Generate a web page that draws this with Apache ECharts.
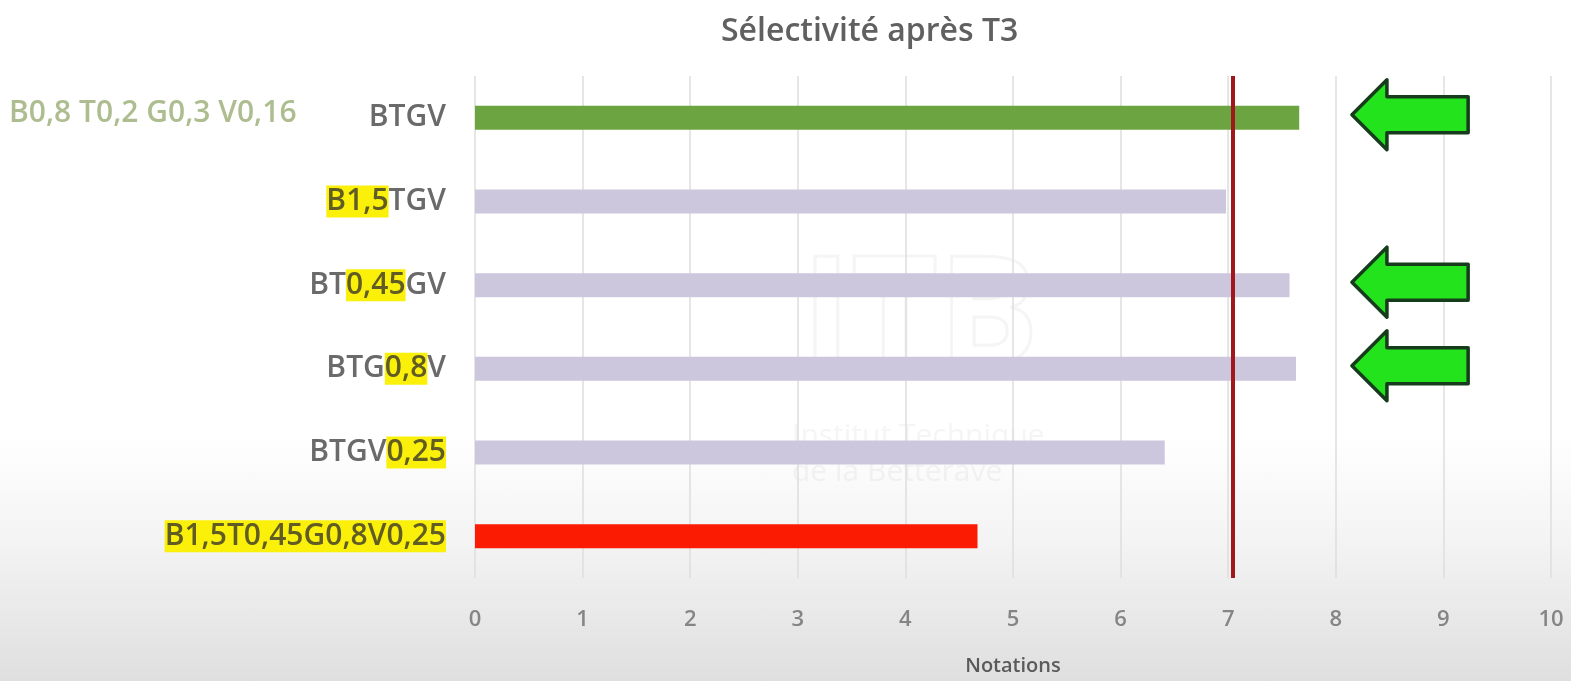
<!DOCTYPE html>
<html>
<head>
<meta charset="utf-8">
<script src="https://cdn.jsdelivr.net/npm/echarts@6/dist/echarts.min.js"></script>
<style>
	html, body { margin: 0; padding: 0; }
	body {
		width: 1571px; height: 681px;
		background: linear-gradient(to bottom, #ffffff 0%, #ffffff 64%, #f3f3f3 80%, #dfdfdf 100%);
	}
	#chart { width: 1571px; height: 681px; }
</style>
</head>
<body>
<div id="chart"></div>
<script>
	// categories, top to bottom
	const categories = ['BTGV', 'B1,5TGV', 'BT0,45GV', 'BTG0,8V', 'BTGV0,25', 'B1,5T0,45G0,8V0,25'];
	// part of each label surligné en jaune
	const highlights = ['', 'B1,5', '0,45', '0,8', '0,25', 'B1,5T0,45G0,8V0,25'];
	const notes = [7.66, 6.98, 7.57, 7.63, 6.41, 4.67];
	const barColors = ['#6da442', '#cdc7dd', '#cdc7dd', '#cdc7dd', '#cdc7dd', '#fb1a02'];
	const seuil = 7.04;
	// lignes marquées d'une flèche verte : [début, fin] en notation
	const arrowRows = ['BTGV', 'BT0,45GV', 'BTG0,8V'];
	const arrowSpan = [8.15, 9.23];
	const refDose = 'B0,8 T0,2 G0,3 V0,16';

	const myChart = echarts.init(document.getElementById('chart'), null, { renderer: 'canvas' });

	function labelFormatter(val) {
		const idx = categories.indexOf(val);
		const h = highlights[idx];
		if (!h) return '{n|' + val + '}';
		const i = val.indexOf(h);
		let s = '';
		if (i > 0) s += '{n|' + val.slice(0, i) + '}';
		s += '{h|' + h + '}';
		if (i + h.length < val.length) s += '{n|' + val.slice(i + h.length) + '}';
		return s;
	}

	const font = '"Open Sans", sans-serif';

	const option = {
		backgroundColor: 'transparent',
		animation: false,
		title: {
			text: 'Sélectivité après T3',
			left: 716, top: 11,
			textStyle: { fontFamily: font, fontSize: 32, fontWeight: 600, color: '#606060' }
		},
		grid: { left: 475, right: 20, top: 76, bottom: 103, outerBoundsMode: 'none', containLabel: false },
		xAxis: {
			type: 'value', min: 0, max: 10, interval: 1,
			name: 'Notations', nameLocation: 'middle', nameGap: 78,
			nameTextStyle: { fontFamily: font, fontSize: 20, fontWeight: 600, color: '#5a5a5a' },
			axisLine: { show: false },
			axisTick: { show: false },
			axisLabel: { margin: 31, fontFamily: font, fontSize: 22, fontWeight: 600, color: '#858585' },
			splitLine: { show: true, lineStyle: { color: '#dedede', width: 1.5 } }
		},
		yAxis: {
			type: 'category', inverse: true, data: categories,
			axisLine: { show: false },
			axisTick: { show: false },
			axisLabel: {
				margin: 29,
				formatter: labelFormatter,
				rich: {
					n: { fontFamily: font, fontSize: 30, fontWeight: 600, color: '#6a6a6a' },
					h: { fontFamily: font, fontSize: 30, fontWeight: 600, color: '#605c24', backgroundColor: '#fbf00a', padding: [1, 0, 1, 0] }
				}
			}
		},
		graphic: [
			{
				type: 'text', left: 9, top: 98, z: 10,
				style: { text: refDose, fontFamily: font, fontSize: 30, fontWeight: 600, fill: '#adbd90' }
			},
			{
				type: 'text', left: 800, top: 245, z: -1, silent: true,
				style: { text: 'ITB', fontFamily: font, fontSize: 150, fontWeight: 'bold', fill: 'rgba(255,255,255,0)', stroke: 'rgba(180,180,180,0.13)', lineWidth: 3 }
			},
			{
				type: 'text', left: 792, top: 418, z: -1, silent: true,
				style: { text: 'Institut Technique\nde la Betterave', align: 'center', fontFamily: font, fontSize: 30, lineHeight: 36, fill: 'rgba(180,180,180,0.13)' }
			}
		],
		series: [
			{
				type: 'bar',
				barWidth: 24,
				data: notes.map((v, i) => ({ value: v, itemStyle: { color: barColors[i] } })),
				markLine: {
					symbol: 'none',
					silent: true,
					label: { show: false },
					lineStyle: { color: '#a1181c', width: 4, type: 'solid' },
					data: [{ xAxis: seuil }]
				}
			},
			{
				type: 'custom',
				z: 5,
				data: arrowRows.map(c => [arrowSpan[0], categories.indexOf(c), arrowSpan[1]]),
				encode: { x: [0, 2], y: 1 },
				renderItem: function (params, api) {
					const tip = api.coord([api.value(0), api.value(1)]);
					const end = api.coord([api.value(2), api.value(1)]);
					const x0 = tip[0], y = tip[1] - 3, x1 = end[0];
					const hx = x0 + 35, hh = 35, sh = 18;
					return {
						type: 'polygon',
						shape: {
							points: [
								[x0, y], [hx, y - hh], [hx, y - sh], [x1, y - sh],
								[x1, y + sh], [hx, y + sh], [hx, y + hh]
							]
						},
						style: { fill: '#22e31c', stroke: '#163c1c', lineWidth: 3.5, lineJoin: 'round' }
					};
				}
			}
		]
	};

	myChart.setOption(option);
	window.addEventListener('resize', function () {
		myChart.resize();
	});
</script>
</body>
</html>
